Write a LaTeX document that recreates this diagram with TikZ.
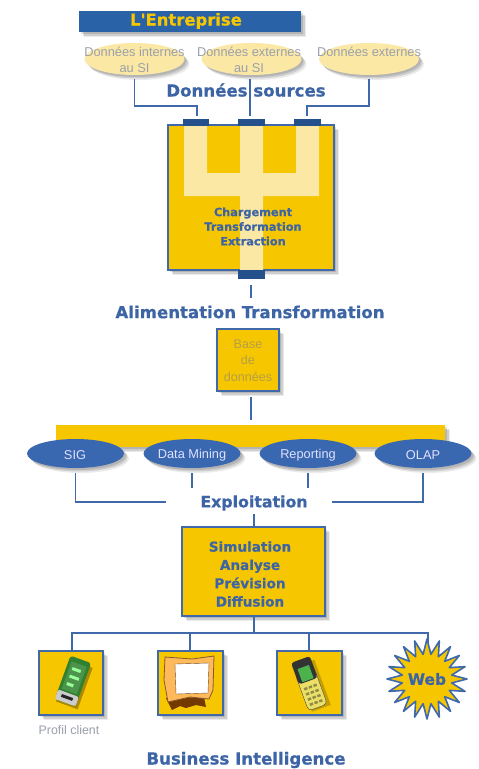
\documentclass[tikz,border=0pt]{standalone}
\usepackage{fontspec}
\setmainfont{Liberation Sans}
\newfontfamily\heavy[FakeBold=0.6]{DejaVu Sans Bold}
\usetikzlibrary{shapes.geometric,shadows,calc}
\definecolor{gold}{HTML}{F6C600}
\definecolor{pale}{HTML}{FBE8A4}
\definecolor{lineblue}{HTML}{3F69A8}
\definecolor{barblue}{HTML}{2A62A8}
\definecolor{tabblue}{HTML}{24508C}
\definecolor{ovalblue}{HTML}{3A68B0}
\definecolor{titleblue}{HTML}{3D65A6}
\definecolor{thin}{HTML}{9AA0AC}
\tikzset{
  softshadow/.style={general shadow={shadow xshift=5pt,shadow yshift=-5pt,fill=black,opacity=.08},
                     general shadow={shadow xshift=3.5pt,shadow yshift=-3.5pt,fill=black,opacity=.12},
                     general shadow={shadow xshift=2pt,shadow yshift=-2pt,fill=black,opacity=.12}},
  conn/.style={draw=lineblue,line width=1.8pt},
  goldbox/.style={draw=lineblue,line width=1.8pt,fill=gold,inner sep=0pt,softshadow},
  tab/.style={fill=tabblue,inner sep=0pt},
  paleoval/.style={ellipse,fill=pale,inner sep=0pt,minimum width=100pt,minimum height=32pt,softshadow},
  blueoval/.style={ellipse,fill=ovalblue,inner sep=0pt,minimum width=97pt,minimum height=29pt,softshadow},
  ovaltext/.style={text=white!88!blue,font=\fontsize{12.8}{14}\selectfont,inner sep=0pt},
  thinlabel/.style={text=thin,font=\fontsize{12.8}{16}\selectfont,align=center,inner sep=0pt},
  title/.style={text=titleblue,font=\heavy\fontsize{16.6}{18}\selectfont,inner sep=0pt},
  boxtext/.style={text=titleblue,align=center,inner sep=0pt},
}
\begin{document}
\begin{tikzpicture}[x=1pt,y=-1pt]
\useasboundingbox (0,0) rectangle (479,769);
\fill[white] (0,0) rectangle (479,769);

% top band
\node[fill=barblue,inner sep=0pt,minimum width=222pt,minimum height=21pt,softshadow] (ent) at (190,21.5) {};
\node[text=gold,font=\heavy\fontsize{16.4}{18}\selectfont,inner sep=0pt] (entt) at (186,21) {L'Entreprise};

% source ovals
\node[paleoval] (s1) at (134.5,59) {};
\node[paleoval] (s2) at (251.5,59) {};
\node[paleoval] (s3) at (369,59) {};
\node[thinlabel] (s1t) at (134.5,60) {Données internes\\au SI};
\node[thinlabel] (s2t) at (249,60) {Données externes\\au SI};
\node[thinlabel] (s3t) at (369,52) {Données externes};

% ETL box
\node[goldbox,minimum width=166pt,minimum height=145pt] (etl) at (251,197.5) {};
\fill[pale] (184,126) -- (207,126) -- (207,173) -- (240,173) -- (240,126) -- (263,126) -- (263,173)
  -- (296,173) -- (296,126) -- (319,126) -- (319,196) -- (263,196) -- (263,270) -- (240,270)
  -- (240,196) -- (184,196) -- cycle;
\node[tab,minimum width=26pt,minimum height=7pt] (t1) at (196,122.5) {};
\node[tab,minimum width=27pt,minimum height=7pt] (t2) at (251.5,122.5) {};
\node[tab,minimum width=27pt,minimum height=7pt] (t3) at (307,122.5) {};
\node[tab,minimum width=27pt,minimum height=9pt] (t4) at (251.5,274.5) {};
\node[boxtext,font=\heavy\fontsize{11.3}{14.6}\selectfont] (etlt) at (253,226.5) {Chargement\\Transformation\\Extraction};

\node[title] (srct) at (246,90) {Données sources};
\node[title] (alim) at (250,312) {Alimentation Transformation};

% base
\node[goldbox,minimum width=62pt,minimum height=62pt] (db) at (248,360) {};
\node[thinlabel,text=gold!45!gray,font=\fontsize{12.6}{16.5}\selectfont] (dbt) at (248,360.5) {Base\\de\\données};

% yellow band and tools
\node[fill=gold,inner sep=0pt,minimum width=389pt,minimum height=22pt,softshadow] (band) at (250.5,436) {};
\node[blueoval] (o1) at (75.5,453.5) {};
\node[blueoval] (o2) at (192,453.5) {};
\node[blueoval] (o3) at (308,453.5) {};
\node[blueoval] (o4) at (423,453.5) {};
\node[ovaltext] (o1t) at (75,455.5) {SIG};
\node[ovaltext] (o2t) at (192,455.5) {Data Mining};
\node[ovaltext] (o3t) at (308,455.5) {Reporting};
\node[ovaltext] (o4t) at (423,455.5) {OLAP};

\node[title,font=\heavy\fontsize{15.8}{18}\selectfont] (expl) at (254,503) {Exploitation};

% analysis box
\node[goldbox,minimum width=143pt,minimum height=89pt] (ana) at (253.5,571.5) {};
\node[boxtext,font=\heavy\fontsize{13.6}{18.3}\selectfont] (anat) at (250,574) {Simulation\\Analyse\\Prévision\\Diffusion};

% connectors
\coordinate (k1) at (197,106);
\coordinate (k1e) at (197,116);
\coordinate (k2) at (250,116);
\coordinate (k3) at (307,106);
\coordinate (k3e) at (307,116);
\draw[conn,shorten <=4pt] (s1.south) |- (k1) -- (k1e);
\draw[conn] (250,79) -- (k2);
\draw[conn,shorten <=4pt] (s3.south) |- (k3) -- (k3e);
\coordinate (a1) at (251,285);
\coordinate (a2) at (251,298);
\draw[conn] (a1) -- (a2);
\coordinate (b1) at (251,397);
\coordinate (b2) at (251,420);
\draw[conn] (b1) -- (b2);
\coordinate (c1) at (166,502);
\coordinate (c4) at (332,502);
\draw[conn,shorten <=5pt] (o1.south) |- (c1);
\draw[conn,shorten <=5pt] (o4.south) |- (c4);
\coordinate (c2) at (192,488);
\coordinate (c3) at (308,488);
\draw[conn,shorten <=5pt] (o2.south) -- (c2);
\draw[conn,shorten <=5pt] (o3.south) -- (c3);
\coordinate (d1) at (254,514);
\draw[conn] (d1) -- (254,527);

% output tree
\coordinate (hub) at (254,633);
\draw[conn] (254,616) -- (hub);
\draw[conn] (72,651) -- (72,633) -- (428,633) -- (428,645);
\draw[conn] (190,633) -- (190,651);
\draw[conn] (309,633) -- (309,651);

% icon boxes
\node[goldbox,minimum width=64pt,minimum height=64pt] (i1) at (71,683) {};
\node[goldbox,minimum width=65pt,minimum height=64pt] (i2) at (190.5,683) {};
\node[goldbox,minimum width=65pt,minimum height=64pt] (i3) at (309.5,683) {};

% PDA
\begin{scope}[shift={(73,681)},rotate=-20]
  \fill[black,opacity=.3] (-9,-19) rectangle (14,25);
  \fill[rounded corners=3pt,fill=gray!55!green!70!black] (-11,-23) rectangle (11,23);
  \fill[rounded corners=2pt,fill=gray!40] (-11,13) rectangle (11,23);
  \fill[fill=green!40!black!70] (-8,-18) rectangle (8,11);
  \fill[fill=white!60!green] (-5,-13) rectangle (4,-10);
  \fill[fill=white!60!green] (-5,-5) rectangle (5,-2);
  \fill[fill=white!60!green] (-5,3) rectangle (2,6);
  \fill[fill=gray!30!black] (-6,16) rectangle (6,19);
\end{scope}

% frame
\fill[black!55!orange] (166,698) -- (172,710) -- (180,706) -- (186,708) -- (196,705) -- (206,707) -- (204,697) -- cycle;
\fill[fill=orange!45!pale,draw=brown!70!black,line width=.8pt]
  (165,657) -- (192,659) -- (214,656) -- (213,690) -- (209,699) -- (190,697) -- (168,702) -- (164,680) -- cycle;
\fill[white,draw=brown!60!black,line width=.4pt] (175,664) -- (209,663) -- (208,693) -- (176,694) -- cycle;

% phone
\begin{scope}[shift={(309,683)},rotate=20]
  \fill[black,opacity=.2] (-7,-20) rectangle (13,28);
  \fill[rounded corners=4pt,fill=yellow!50!pale!85!gray,draw=gray!60!black,line width=.4pt] (-10,-12) rectangle (10,26);
  \fill[rounded corners=3pt,fill=black!80] (-10,-25) rectangle (10,-2);
  \fill[fill=green!40!gray] (-6,-17) rectangle (6,-3);
  \foreach \r in {0,1,2,3} \foreach \c in {-1,0,1}
    \fill[gray!50!olive] ({\c*5-1.7},{3+\r*5.5}) rectangle ({\c*5+1.7},{5.5+\r*5.5});
\end{scope}

% web star
\node[star,star points=20,star point ratio=1.6,draw=lineblue,line width=1.6pt,fill=gold,minimum size=80pt,inner sep=0pt,line join=round] (web) at (427,679) {};
\node[text=titleblue,font=\heavy\fontsize{15.5}{18}\selectfont,inner sep=0pt] (webt) at (427,679) {Web};

\node[thinlabel,font=\fontsize{12.4}{14}\selectfont] (prof) at (69,730) {Profil client};
\node[title] (bi) at (246,760) {Business Intelligence};
\end{tikzpicture}
\end{document}
